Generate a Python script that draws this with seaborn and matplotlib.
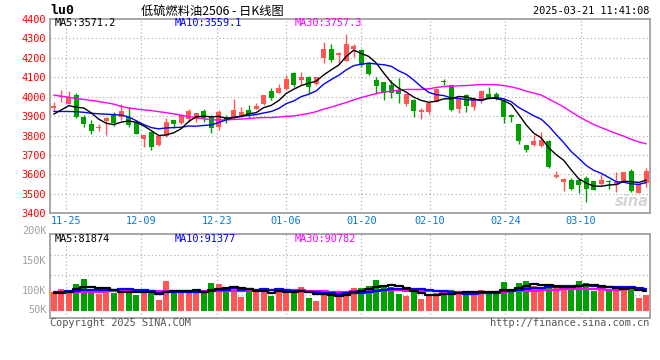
import numpy as np
import pandas as pd
import matplotlib
matplotlib.use("Agg")
import matplotlib.pyplot as plt
import seaborn as sns

# ---------------- data ----------------
opens = [3944, 4000, 3963, 4010, 3898, 3861, 3839, 3875, 3908, 3898,
         3898, 3870, 3781, 3819, 3751, 3797, 3878, 3864, 3883, 3886,
         3928, 3897, 3846, 3897, 3889, 3897, 3932, 3938, 3962, 4029,
         4021, 4038, 4120, 4085, 4103, 4068, 4197, 4248, 4215, 4185,
         4248, 4243, 4174, 4085, 4075, 4060, 4034, 3962, 3983, 3920,
         3923, 3973, 4080, 4060, 3938, 4009, 3949, 3979, 4014, 4014,
         3980, 3908, 3858, 3751, 3751, 3746, 3773, 3585, 3559, 3573,
         3569, 3581, 3564, 3553, 3563, 3547, 3564, 3620, 3505, 3556]
closes = [3948, 4005, 3997, 3898, 3861, 3824, 3842, 3892, 3864, 3924,
          3853, 3807, 3802, 3742, 3797, 3870, 3861, 3908, 3929, 3915,
          3889, 3838, 3923, 3880, 3932, 3920, 3906, 3952, 4009, 3991,
          4044, 4089, 4060, 4103, 4051, 4099, 4248, 4191, 4226, 4273,
          4260, 4162, 4116, 4055, 4017, 4017, 4014, 4014, 3928, 3932,
          3969, 4041, 4074, 3932, 3991, 3952, 3995, 4031, 3993, 3986,
          3895, 3895, 3773, 3725, 3773, 3776, 3637, 3598, 3578, 3527,
          3547, 3527, 3522, 3573, 3559, 3559, 3610, 3514, 3551, 3620]
highs = [3971, 4036, 4030, 4017, 3905, 3878, 3861, 3894, 3920, 3963,
         3946, 3878, 3804, 3821, 3800, 3892, 3880, 3910, 3937, 3917,
         3935, 3906, 3932, 3906, 3988, 3945, 3957, 3966, 4011, 4043,
         4065, 4111, 4128, 4128, 4108, 4102, 4282, 4270, 4228, 4325,
         4270, 4248, 4180, 4103, 4078, 4085, 4094, 4016, 3986, 3940,
         3974, 4043, 4091, 4062, 3997, 4014, 4000, 4034, 4051, 4026,
         3990, 3910, 3860, 3753, 3802, 3819, 3776, 3619, 3580, 3581,
         3581, 3590, 3566, 3602, 3573, 3610, 3615, 3629, 3553, 3632]
lows = [3924, 3971, 3960, 3892, 3844, 3807, 3824, 3802, 3847, 3878,
        3844, 3806, 3742, 3725, 3748, 3795, 3841, 3862, 3869, 3869,
        3872, 3812, 3829, 3863, 3887, 3895, 3889, 3936, 3957, 3983,
        4018, 4036, 4051, 4060, 4021, 4062, 4174, 4179, 4171, 4185,
        4202, 4154, 4110, 4014, 3983, 3995, 3969, 3952, 3897, 3885,
        3911, 3971, 4060, 3928, 3918, 3921, 3932, 3969, 3986, 3983,
        3864, 3869, 3759, 3717, 3746, 3739, 3632, 3581, 3514, 3519,
        3502, 3458, 3519, 3547, 3525, 3508, 3562, 3512, 3503, 3534]
volumes = [77800, 90300, 86100, 111100, 131900, 82000, 69500, 82000, 74900, 83200,
           83200, 65300, 79000, 79000, 44500, 123600, 76100, 86100, 76100, 74900,
           74900, 116500, 111100, 90300, 104000, 58200, 90300, 76100, 90300, 62400,
           86100, 76100, 82000, 99800, 54100, 40400, 65300, 67800, 72000, 83200,
           92800, 92800, 102800, 127700, 106900, 96900, 69500, 61200, 83200, 48700,
           65300, 72000, 72000, 86100, 72000, 77800, 72000, 86100, 72000, 72000,
           120600, 86100, 116500, 123600, 102800, 95700, 96900, 92800, 106900, 92800,
           124800, 116500, 83200, 90300, 86100, 99800, 99800, 90300, 54100, 65300]

# moving-average values before enough candles exist
ma5_head = [3910, 3932, 3954, 3946]
ma10_head = [3924, 3924, 3924, 3923, 3920, 3915, 3912, 3910, 3908]
ma30_head = [4008, 4003, 3997, 3991, 3986, 3981, 3975, 3969, 3962, 3950,
             3942, 3937, 3932, 3929, 3923, 3918, 3912, 3905, 3897, 3893,
             3886, 3882, 3880, 3881, 3883, 3885, 3888, 3891, 3893]
vma5_head = [72000, 74000, 79000, 90000]
vma10_head = [78000, 79000, 81000, 83000, 85000, 86000, 86000, 86000, 87000]
vma30_head = [78000, 78000, 78500, 79000, 79000, 79500, 79500, 80000, 80000, 80500,
              80500, 81000, 81000, 81500, 81500, 82000, 82000, 82500, 82500, 83000,
              83000, 83500, 83500, 84000, 84000, 84000, 84500, 84500, 85000]

tick_idx = [2, 12, 22, 31, 41, 50, 60, 70]
tick_labels = ["11-25", "12-09", "12-23", "01-06", "01-20", "02-10", "02-24", "03-10"]
price_ticks = [4400, 4300, 4200, 4100, 4000, 3900, 3800, 3700, 3600, 3500, 3400]
vol_labels = ["200K", "150K", "100K", "50K"]

# ---------------- frame ----------------
n = len(closes)
df = pd.DataFrame({"i": np.arange(n), "open": opens, "close": closes,
                   "high": highs, "low": lows, "vol": volumes})


def ma(series, w, head):
    m = series.rolling(w).mean()
    m.iloc[:w - 1] = head
    return m


df["ma5"] = ma(df["close"], 5, ma5_head)
df["ma10"] = ma(df["close"], 10, ma10_head)
df["ma30"] = ma(df["close"], 30, ma30_head)
df["vma5"] = ma(df["vol"], 5, vma5_head)
df["vma10"] = ma(df["vol"], 10, vma10_head)
df["vma30"] = ma(df["vol"], 30, vma30_head)

RED = "#ff5555"
GREEN = "#00a000"
colors = np.where(df["close"] >= df["open"], RED, GREEN)

sns.set_style("white")
plt.rcParams["font.family"] = ["DejaVu Sans Mono"]

W, H = 660, 360
fig = plt.figure(figsize=(W / 100, H / 100), dpi=100)
fig.patch.set_facecolor("white")


def fx(px):
    return px / W


def fy(py):
    return 1 - py / H


ax = fig.add_axes([fx(50), fy(213.3), 600 / W, 194.3 / H])
axv = fig.add_axes([fx(50), fy(317.7), 600 / W, 83.4 / H])

GRID = dict(color="#b4b4b4", lw=0.9, ls=(0, (1, 2)), zorder=0)
grid_x = [(t - 2) * 1.0107 + 1.59 for t in tick_idx]

# ---------------- price panel ----------------
for v in price_ticks[1:-1]:
    ax.axhline(v, **GRID)
for g in grid_x:
    ax.axvline(g, **GRID)

ax.vlines(df["i"], df["low"], df["high"], colors=colors, lw=1, zorder=2)
body = np.maximum((df["close"] - df["open"]).abs(), 6)
ax.bar(df["i"], body, bottom=np.minimum(df["open"], df["close"]),
       width=0.72, color=colors, linewidth=0, zorder=3)

sns.lineplot(x=df["i"], y=df["ma30"], ax=ax, color="#ff00ff", lw=1, zorder=4)
sns.lineplot(x=df["i"], y=df["ma10"], ax=ax, color="#0000ff", lw=1, zorder=4)
sns.lineplot(x=df["i"], y=df["ma5"], ax=ax, color="black", lw=1, zorder=5)

ax.set_xlim(-0.5, n - 0.5)
ax.set_ylim(3400, 4400)
ax.set_yticks(price_ticks)
ax.set_yticklabels([str(p) for p in price_ticks])
ax.set_xticks(grid_x)
ax.set_xticklabels(tick_labels)
ax.tick_params(axis="y", length=0, pad=3, labelsize=7.4, labelcolor="#ff0000")
ax.tick_params(axis="x", length=0, pad=2, labelsize=7.4, labelcolor="#0a78d8")
ax.set_xlabel("")
ax.set_ylabel("")
for s in ax.spines.values():
    s.set_color("#a0a0a0")
    s.set_linewidth(1.3)

# ---------------- volume panel ----------------
for py in (255.0, 275.3, 295.3):
    axv.plot([0, 1], [(317.7 - py) / 83.4] * 2, transform=axv.transAxes, **GRID)
for g in grid_x:
    axv.axvline(g, **GRID)

axv.bar(df["i"], df["vol"], width=0.75, color=colors, linewidth=0, zorder=2)
sns.lineplot(x=df["i"], y=df["vma30"], ax=axv, color="#ff00ff", lw=1.6, zorder=4,
             drawstyle="steps-mid")
sns.lineplot(x=df["i"], y=df["vma10"], ax=axv, color="#0000ff", lw=1.6, zorder=4,
             drawstyle="steps-mid")
sns.lineplot(x=df["i"], y=df["vma5"], ax=axv, color="black", lw=1.6, zorder=5,
             drawstyle="steps-mid")
axv.set_xlim(-0.5, n - 0.5)
axv.set_ylim(-29100, 317800)
axv.set_xticks([])
axv.set_yticks([])
axv.set_xlabel("")
axv.set_ylabel("")
for s in axv.spines.values():
    s.set_color("#a0a0a0")
    s.set_linewidth(1.3)

for lbl, py in zip(vol_labels, (231, 261, 290.5, 310.3)):
    fig.text(fx(46.5), fy(py), lbl, ha="right", va="center", size=7.4, color="#a0a0a0")

# ---------------- texts ----------------
mono = dict(size=7.4, va="center")
fig.text(fx(55), fy(23.5), "MA5:3571.2", color="black", **mono)
fig.text(fx(175), fy(23.5), "MA10:3559.1", color="#0000ff", **mono)
fig.text(fx(295), fy(23.5), "MA30:3757.3", color="#ff00ff", **mono)
fig.text(fx(55), fy(238.5), "MA5:81874", color="black", **mono)
fig.text(fx(175), fy(238.5), "MA10:91377", color="#0000ff", **mono)
fig.text(fx(295), fy(238.5), "MA30:90782", color="#ff00ff", **mono)

fig.text(fx(50), fy(11), "lu0", size=9.5, weight="bold", va="center", color="black")
fig.text(fx(141), fy(11), "低硫燃料油2506 - 日K线图", size=8.8, va="center",
         color="black", family=["Noto Sans CJK SC", "DejaVu Sans"])
fig.text(fx(649), fy(11), "2025-03-21 11:41:08", ha="right", color="black", **mono)
fig.text(fx(50), fy(323.5), "Copyright 2025 SINA.COM", ha="left", color="#555555", **mono)
fig.text(fx(649), fy(323.5), "http://finance.sina.com.cn", ha="right", color="#555555", **mono)
fig.text(fx(649), fy(201), "sina", ha="right", va="center", size=10.5, style="italic",
         weight="bold", color="#d6d6d6", family=["DejaVu Sans"])

fig.savefig("out.png", dpi=100, facecolor="white")
